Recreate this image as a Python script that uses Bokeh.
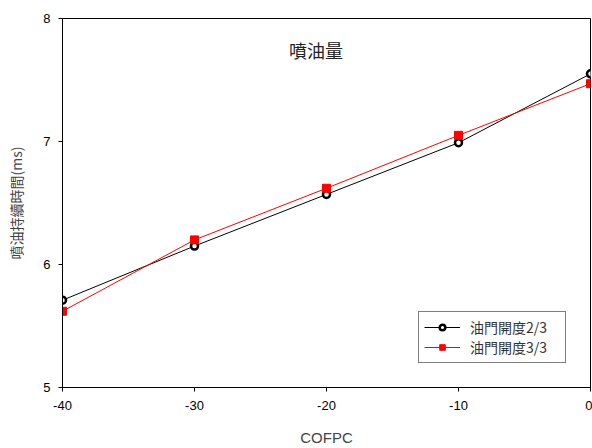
from bokeh.plotting import figure
from bokeh.models import FixedTicker, Label, Legend, LegendItem, Range1d
from bokeh.embed import file_html
from bokeh.resources import INLINE

# Injection duration vs COFPC for two throttle openings
cofpc = [-40, -30, -20, -10, 0]
open_2_3 = [5.71, 6.15, 6.57, 6.99, 7.55]
open_3_3 = [5.62, 6.20, 6.62, 7.05, 7.47]
x_ticks = [-40, -30, -20, -10, 0]
y_ticks = [5, 6, 7, 8]

cjk = "Noto Sans CJK TC"
latin = "Liberation Sans"

p = figure(width=592, height=448, output_backend="svg", toolbar_location=None,
           x_range=Range1d(-40, 0), y_range=Range1d(5, 8),
           min_border_left=62, min_border_right=2, min_border_top=18,
           min_border_bottom=60)

p.xgrid.visible = False
p.ygrid.visible = False
p.outline_line_color = "black"
p.outline_line_width = 1

for ax in (p.xaxis[0], p.yaxis[0]):
    ax.axis_line_color = "black"
    ax.major_tick_line_color = "black"
    ax.major_tick_in = 0
    ax.major_tick_out = 4
    ax.minor_tick_line_color = None
    ax.major_label_text_font = latin
    ax.major_label_text_font_size = "13px"
    ax.major_label_text_color = "black"

p.xaxis.ticker = FixedTicker(ticks=x_ticks)
p.yaxis.ticker = FixedTicker(ticks=y_ticks)
# plain hyphen for negative tick labels
p.xaxis.major_label_overrides = {t: str(t) for t in x_ticks}
p.xaxis.major_label_standoff = 9
p.yaxis.major_label_standoff = 8

p.xaxis.axis_label = "COFPC"
p.xaxis.axis_label_text_font = latin
p.xaxis.axis_label_text_font_style = "normal"
p.xaxis.axis_label_text_font_size = "15px"
p.xaxis.axis_label_standoff = 16

p.yaxis.axis_label = "噴油持續時間(ms)"
p.yaxis.axis_label_text_font = cjk
p.yaxis.axis_label_text_font_style = "normal"
p.yaxis.axis_label_text_font_size = "14px"
p.yaxis.axis_label_standoff = 14

l1 = p.line(cofpc, open_2_3, line_color="black", line_width=1)
m1 = p.scatter(cofpc, open_2_3, marker="circle", size=7, fill_color="white",
               line_color="black", line_width=2.5)
l2 = p.line(cofpc, open_3_3, line_color="red", line_width=1)
m2 = p.scatter(cofpc, open_3_3, marker="square", size=8, fill_color="red",
               line_color="red")

p.add_layout(Label(x=-20.8, y=7.74, text="噴油量", text_font=cjk,
                   text_font_size="18px", text_align="center",
                   text_baseline="middle", text_color="#222222"))

legend = Legend(items=[LegendItem(label="油門開度2/3", renderers=[l1, m1]),
                       LegendItem(label="油門開度3/3", renderers=[l2, m2])],
                location=(356, 24), label_text_font=cjk,
                label_text_font_size="14px", label_text_color="#333333",
                glyph_width=36, glyph_height=14,
                spacing=0, padding=5, margin=0, label_standoff=10,
                label_width=90,
                border_line_color="black", border_line_width=1,
                background_fill_alpha=1)
p.add_layout(legend)

open("out.html", "w").write(file_html(p, INLINE))
